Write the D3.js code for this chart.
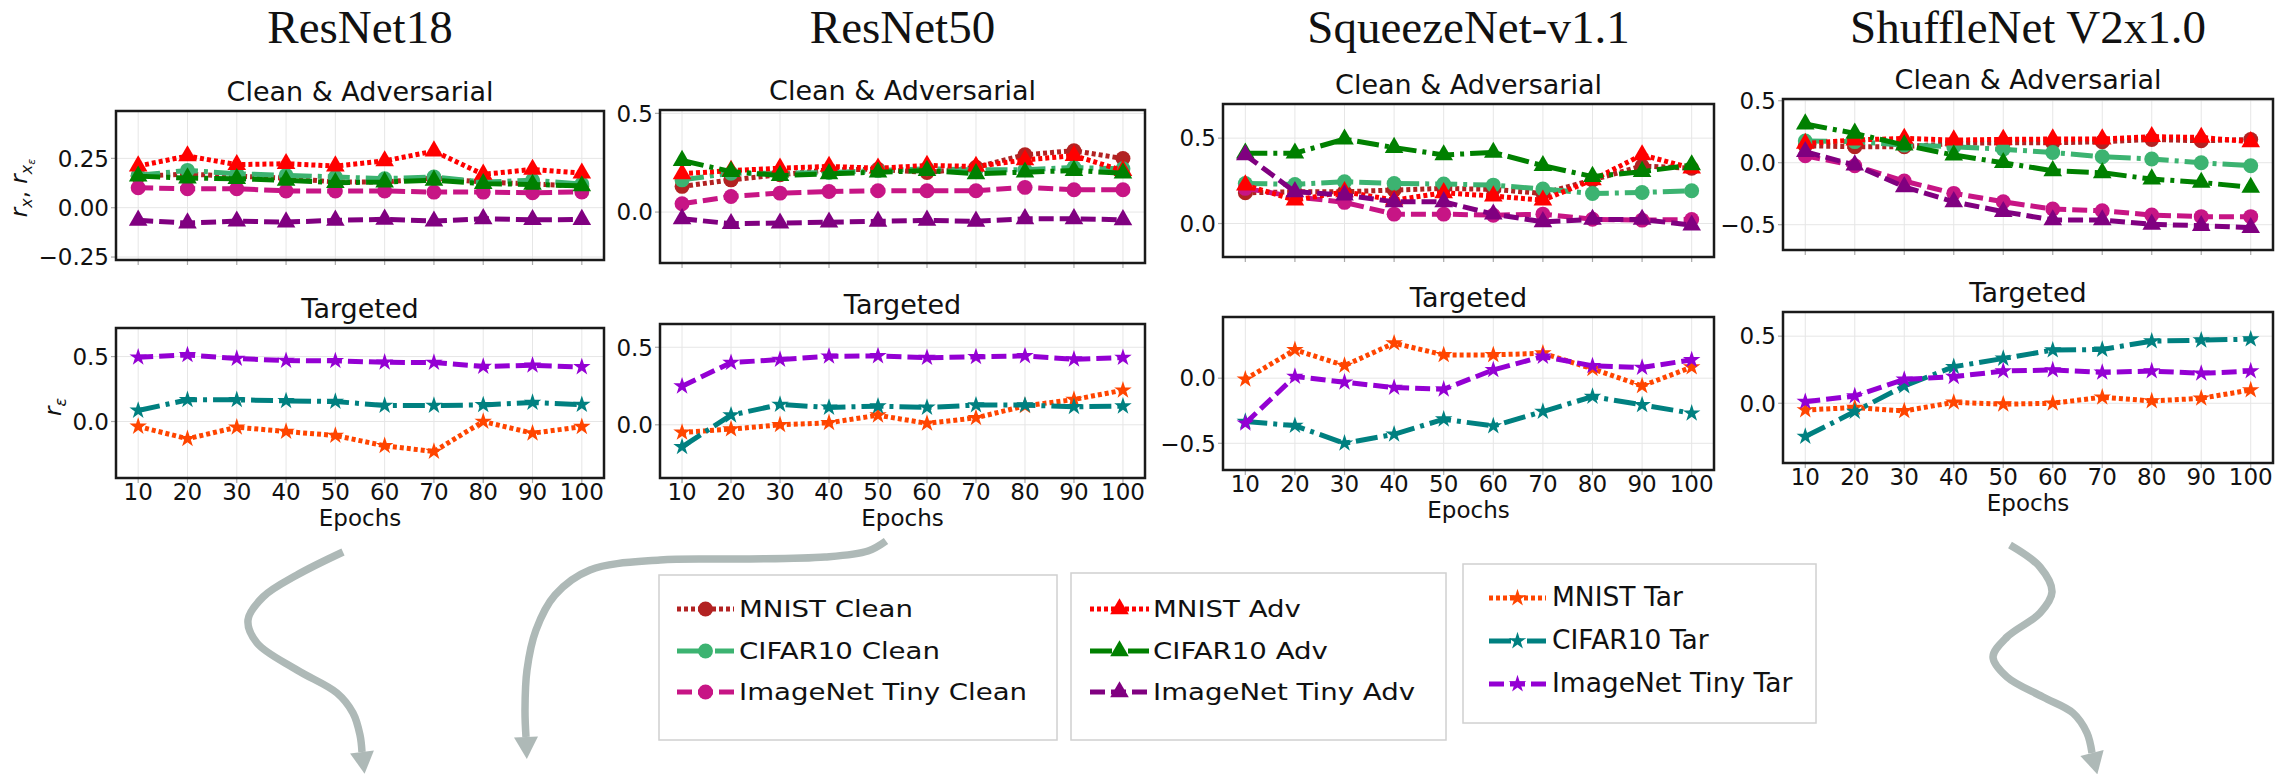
<!DOCTYPE html>
<html>
<head>
<meta charset="utf-8">
<script src="https://cdnjs.cloudflare.com/ajax/libs/d3/7.8.5/d3.min.js"></script>
<style>
  body { margin: 0; background: #fff; }
  svg { display: block; font-family: "DejaVu Sans", sans-serif; }
</style>
</head>
<body>
<svg id="fig" width="2295" height="774"></svg>
<script>
// ---- data ----
var epochs = [10, 20, 30, 40, 50, 60, 70, 80, 90, 100];
var models = ["ResNet18", "ResNet50", "SqueezeNet-v1.1", "ShuffleNet V2x1.0"];

// one row per model, in the order of `models`
var mnistClean = [
  [0.16, 0.17, 0.16, 0.15, 0.13, 0.13, 0.15, 0.13, 0.12, 0.11],
  [0.13, 0.163, 0.189, 0.214, 0.217, 0.2, 0.227, 0.29, 0.311, 0.271],
  [0.18, 0.186, 0.186, 0.196, 0.206, 0.2, 0.176, 0.255, 0.337, 0.324],
  [0.137, 0.129, 0.129, 0.156, 0.161, 0.161, 0.169, 0.188, 0.177, 0.188]
];
var cifarClean = [
  [0.164, 0.189, 0.172, 0.164, 0.156, 0.147, 0.156, 0.13, 0.139, 0.12],
  [0.163, 0.197, 0.197, 0.2, 0.21, 0.219, 0.214, 0.214, 0.226, 0.219],
  [0.235, 0.229, 0.245, 0.235, 0.231, 0.225, 0.202, 0.176, 0.182, 0.192],
  [0.175, 0.17, 0.142, 0.129, 0.108, 0.083, 0.048, 0.03, 0.0, -0.024]
];
var imnetClean = [
  [0.101, 0.096, 0.096, 0.085, 0.085, 0.085, 0.079, 0.079, 0.076, 0.08],
  [0.042, 0.079, 0.096, 0.104, 0.108, 0.108, 0.108, 0.125, 0.113, 0.113],
  [0.206, 0.157, 0.124, 0.055, 0.055, 0.049, 0.055, 0.025, 0.02, 0.024],
  [0.056, -0.024, -0.148, -0.247, -0.315, -0.374, -0.387, -0.422, -0.435, -0.435]
];
var mnistAdv = [
  [0.211, 0.262, 0.218, 0.223, 0.211, 0.237, 0.287, 0.169, 0.194, 0.175],
  [0.194, 0.21, 0.222, 0.231, 0.222, 0.236, 0.231, 0.264, 0.286, 0.21],
  [0.225, 0.137, 0.186, 0.137, 0.18, 0.161, 0.137, 0.255, 0.402, 0.324],
  [0.156, 0.183, 0.196, 0.183, 0.188, 0.191, 0.191, 0.21, 0.204, 0.169]
];
var cifarAdv = [
  [0.16, 0.15, 0.147, 0.139, 0.127, 0.13, 0.139, 0.122, 0.118, 0.11],
  [0.261, 0.205, 0.185, 0.194, 0.202, 0.21, 0.194, 0.202, 0.21, 0.197],
  [0.412, 0.412, 0.494, 0.445, 0.402, 0.416, 0.339, 0.275, 0.304, 0.343],
  [0.312, 0.237, 0.142, 0.062, 0.0, -0.065, -0.081, -0.132, -0.159, -0.199]
];
var imnetAdv = [
  [-0.064, -0.078, -0.068, -0.073, -0.064, -0.059, -0.068, -0.056, -0.061, -0.06],
  [-0.034, -0.059, -0.056, -0.051, -0.047, -0.042, -0.047, -0.034, -0.034, -0.039],
  [0.402, 0.186, 0.167, 0.127, 0.127, 0.055, 0.01, 0.024, 0.024, -0.01],
  [0.089, -0.019, -0.194, -0.315, -0.395, -0.462, -0.462, -0.497, -0.508, -0.524]
];
var mnistTar = [
  [-0.038, -0.133, -0.044, -0.077, -0.108, -0.187, -0.231, 0.0, -0.09, -0.04],
  [-0.049, -0.028, 0.0, 0.013, 0.062, 0.009, 0.045, 0.122, 0.163, 0.223],
  [-0.008, 0.218, 0.097, 0.269, 0.179, 0.179, 0.192, 0.072, -0.059, 0.085],
  [-0.05, -0.032, -0.057, 0.007, -0.007, 0.0, 0.045, 0.017, 0.037, 0.099]
];
var cifarTar = [
  [0.085, 0.167, 0.167, 0.159, 0.154, 0.123, 0.123, 0.128, 0.146, 0.13],
  [-0.142, 0.062, 0.131, 0.112, 0.12, 0.112, 0.127, 0.127, 0.116, 0.12],
  [-0.333, -0.364, -0.5, -0.431, -0.315, -0.367, -0.256, -0.141, -0.205, -0.269],
  [-0.248, -0.062, 0.129, 0.272, 0.334, 0.396, 0.401, 0.463, 0.47, 0.478]
];
var imnetTar = [
  [0.495, 0.513, 0.485, 0.469, 0.467, 0.456, 0.454, 0.423, 0.433, 0.42],
  [0.249, 0.401, 0.421, 0.442, 0.444, 0.433, 0.438, 0.444, 0.423, 0.433],
  [-0.346, 0.013, -0.031, -0.072, -0.085, 0.064, 0.167, 0.095, 0.082, 0.141],
  [0.012, 0.054, 0.178, 0.198, 0.24, 0.248, 0.23, 0.24, 0.223, 0.24]
];

var yTicksTop = [[-0.25, 0, 0.25], [0, 0.5], [0, 0.5], [-0.5, 0, 0.5]];
var yTicksBottom = [[0, 0.5], [0, 0.5], [-0.5, 0], [0, 0.5]];
var topTickFormat = [".2f", ".1f", ".1f", ".1f"];

// ---- styles ----
var DASH = { dot: "4,3", dash: "15,6", dashdot: "22,6,4,6" };
var SYM = { circle: d3.symbolCircle, triangle: d3.symbolTriangle, star: d3.symbolStar };
var SYM_SIZE = { circle: 175, triangle: 150, star: 95 };

var cleanAdvSeries = [
  { name: "MNIST Clean", values: mnistClean, color: "#b22222", dash: "dot", marker: "circle" },
  { name: "CIFAR10 Clean", values: cifarClean, color: "#3cb371", dash: "dashdot", marker: "circle" },
  { name: "ImageNet Tiny Clean", values: imnetClean, color: "#c71585", dash: "dash", marker: "circle" },
  { name: "MNIST Adv", values: mnistAdv, color: "#ff0000", dash: "dot", marker: "triangle" },
  { name: "CIFAR10 Adv", values: cifarAdv, color: "#008000", dash: "dashdot", marker: "triangle" },
  { name: "ImageNet Tiny Adv", values: imnetAdv, color: "#800080", dash: "dash", marker: "triangle" }
];
var targetedSeries = [
  { name: "MNIST Tar", values: mnistTar, color: "#ff4500", dash: "dot", marker: "star" },
  { name: "CIFAR10 Tar", values: cifarTar, color: "#008080", dash: "dashdot", marker: "star" },
  { name: "ImageNet Tiny Tar", values: imnetTar, color: "#9400d3", dash: "dash", marker: "star" }
];

// ---- layout (pixel boxes of each panel) ----
var panels = [
  { x0: 116, x1: 604, top: [111, 260], bottom: [328, 478], topDomain: [-0.265, 0.49], bottomDomain: [-0.435, 0.72] },
  { x0: 660, x1: 1145, top: [110, 263], bottom: [324, 478], topDomain: [-0.258, 0.517], bottomDomain: [-0.343, 0.65] },
  { x0: 1223, x1: 1714, top: [104, 257], bottom: [317, 470], topDomain: [-0.196, 0.70], bottomDomain: [-0.705, 0.47] },
  { x0: 1783, x1: 2273, top: [99, 250], bottom: [312, 463], topDomain: [-0.704, 0.514], bottomDomain: [-0.445, 0.68] }
];

var svg = d3.select("#fig");

// draws one framed plot with grid, ticks and the given series
function drawPlot(pi, box, domain, yTicks, yFmt, series, title, withXLabels) {
  var p = panels[pi];
  var x = d3.scaleLinear().domain([5.5, 104.5]).range([p.x0, p.x1]);
  var y = d3.scaleLinear().domain(domain).range([box[1], box[0]]);
  var g = svg.append("g");

  // grid
  g.selectAll(".gx").data(epochs).enter().append("line")
    .attr("x1", function(d) { return x(d); }).attr("x2", function(d) { return x(d); })
    .attr("y1", box[0]).attr("y2", box[1])
    .attr("stroke", "#e6e6e6").attr("stroke-width", 1);
  g.selectAll(".gy").data(yTicks).enter().append("line")
    .attr("x1", p.x0).attr("x2", p.x1)
    .attr("y1", function(d) { return y(d); }).attr("y2", function(d) { return y(d); })
    .attr("stroke", "#e6e6e6").attr("stroke-width", 1);

  // tick marks
  g.selectAll(".tx").data(epochs).enter().append("line")
    .attr("x1", function(d) { return x(d); }).attr("x2", function(d) { return x(d); })
    .attr("y1", box[1]).attr("y2", box[1] + 5)
    .attr("stroke", "#aaa").attr("stroke-width", 1.2);
  g.selectAll(".ty").data(yTicks).enter().append("line")
    .attr("x1", p.x0 - 5).attr("x2", p.x0)
    .attr("y1", function(d) { return y(d); }).attr("y2", function(d) { return y(d); })
    .attr("stroke", "#aaa").attr("stroke-width", 1.2);

  // y tick labels
  var fmt = d3.format(yFmt);
  g.selectAll(".ly").data(yTicks).enter().append("text")
    .attr("x", p.x0 - 7).attr("y", function(d) { return y(d); })
    .attr("dy", "0.36em").attr("text-anchor", "end")
    .attr("font-size", 23).attr("fill", "#111")
    .text(function(d) { return fmt(d); });

  if (withXLabels) {
    g.selectAll(".lx").data(epochs).enter().append("text")
      .attr("x", function(d) { return x(d); }).attr("y", box[1] + 22)
      .attr("text-anchor", "middle").attr("font-size", 23).attr("fill", "#111")
      .text(function(d) { return d; });
    g.append("text").attr("x", (p.x0 + p.x1) / 2).attr("y", box[1] + 48)
      .attr("text-anchor", "middle").attr("font-size", 23).attr("fill", "#111")
      .text("Epochs");
  }

  g.append("text").attr("x", (p.x0 + p.x1) / 2).attr("y", box[0] - 10)
    .attr("text-anchor", "middle").attr("font-size", 27).attr("fill", "#111")
    .text(title);

  // series
  var line = d3.line()
    .x(function(d, i) { return x(epochs[i]); })
    .y(function(d) { return y(d); });

  series.forEach(function(s) {
    var vals = s.values[pi];
    g.append("path").attr("d", line(vals))
      .attr("fill", "none").attr("stroke", s.color).attr("stroke-width", 5)
      .attr("stroke-dasharray", DASH[s.dash]);
    g.selectAll(null).data(vals).enter().append("path")
      .attr("transform", function(d, i) { return "translate(" + x(epochs[i]) + "," + y(d) + ")"; })
      .attr("d", d3.symbol().type(SYM[s.marker]).size(SYM_SIZE[s.marker]))
      .attr("fill", s.color);
  });

  // frame
  g.append("rect").attr("x", p.x0).attr("y", box[0])
    .attr("width", p.x1 - p.x0).attr("height", box[1] - box[0])
    .attr("fill", "none").attr("stroke", "#1a1a1a").attr("stroke-width", 2.5);
}

panels.forEach(function(p, i) {
  svg.append("text").attr("x", (p.x0 + p.x1) / 2).attr("y", 43)
    .attr("text-anchor", "middle").attr("font-family", "'Liberation Serif', serif")
    .attr("font-size", 47).attr("fill", "#111").text(models[i]);
  drawPlot(i, p.top, p.topDomain, yTicksTop[i], topTickFormat[i], cleanAdvSeries, "Clean & Adversarial", false);
  drawPlot(i, p.bottom, p.bottomDomain, yTicksBottom[i], ".1f", targetedSeries, "Targeted", true);
});

// y axis labels (math style)
var yl1 = svg.append("text").attr("transform", "translate(27,188) rotate(-90)")
  .attr("text-anchor", "middle").attr("font-size", 23).attr("fill", "#111");
yl1.append("tspan").attr("font-style", "italic").text("r");
yl1.append("tspan").attr("font-style", "italic").attr("font-size", 16).attr("dy", 5).text("x");
yl1.append("tspan").attr("dy", -5).text(",  ");
yl1.append("tspan").attr("font-style", "italic").text("r");
yl1.append("tspan").attr("font-style", "italic").attr("font-size", 16).attr("dy", 5).text("x");
yl1.append("tspan").attr("font-style", "italic").attr("font-size", 11).attr("dy", 3).text("ε");

var yl2 = svg.append("text").attr("transform", "translate(61,407) rotate(-90)")
  .attr("text-anchor", "middle").attr("font-size", 23).attr("fill", "#111");
yl2.append("tspan").attr("font-style", "italic").text("r");
yl2.append("tspan").attr("font-style", "italic").attr("font-size", 16).attr("dy", 5).text("ε");

// ---- legends ----
var legends = [
  { box: [659, 575, 1057, 740], series: cleanAdvSeries.slice(0, 3), hx: [677, 734], tx: 739, rows: [617, 659, 700], fs: 23, sx: 1.2 },
  { box: [1071, 573, 1446, 740], series: cleanAdvSeries.slice(3, 6), hx: [1090, 1149], tx: 1153, rows: [617, 659, 700], fs: 23, sx: 1.2 },
  { box: [1463, 564, 1816, 723], series: targetedSeries, hx: [1489, 1546], tx: 1552, rows: [606, 649, 692], fs: 26.5, sx: 1 }
];

legends.forEach(function(L) {
  var g = svg.append("g");
  g.append("rect").attr("x", L.box[0]).attr("y", L.box[1])
    .attr("width", L.box[2] - L.box[0]).attr("height", L.box[3] - L.box[1])
    .attr("fill", "#fff").attr("stroke", "#d0d0d0").attr("stroke-width", 1.5);
  L.series.forEach(function(s, i) {
    var cy = L.rows[i] - 8;
    g.append("line").attr("x1", L.hx[0]).attr("x2", L.hx[1]).attr("y1", cy).attr("y2", cy)
      .attr("stroke", s.color).attr("stroke-width", 5).attr("stroke-dasharray", DASH[s.dash]);
    g.append("path").attr("transform", "translate(" + ((L.hx[0] + L.hx[1]) / 2) + "," + cy + ")")
      .attr("d", d3.symbol().type(SYM[s.marker]).size(SYM_SIZE[s.marker]))
      .attr("fill", s.color);
    g.append("text").attr("transform", "translate(" + L.tx + "," + L.rows[i] + ") scale(" + L.sx + ",1)")
      .attr("font-size", L.fs).attr("fill", "#111").text(s.name);
  });
});

// ---- decorative arrows ----
var arrows = [
  [[343, 552], [297, 575], [263, 597], [248, 620], [257, 643], [297, 670], [337, 693], [353, 713], [360, 735], [362, 752]],
  [[886, 541], [868, 551], [825, 557], [740, 559], [660, 560], [590, 570], [555, 595], [536, 630], [527, 670], [525, 710], [526, 737]],
  [[2010, 545], [2040, 567], [2052, 592], [2040, 613], [2007, 637], [1993, 657], [2007, 677], [2043, 697], [2073, 713], [2087, 733], [2092, 753]]
];
var arrowColor = "#aeb9b7";
var curve = d3.line().curve(d3.curveCatmullRom.alpha(0.5));

arrows.forEach(function(pts) {
  svg.append("path").attr("d", curve(pts))
    .attr("fill", "none").attr("stroke", arrowColor).attr("stroke-width", 7.5);
  var a = pts[pts.length - 2], b = pts[pts.length - 1];
  var ang = Math.atan2(b[1] - a[1], b[0] - a[0]);
  var len = 22, half = 12;
  var tip = [b[0] + Math.cos(ang) * len, b[1] + Math.sin(ang) * len];
  var l = [b[0] + Math.cos(ang + Math.PI / 2) * half, b[1] + Math.sin(ang + Math.PI / 2) * half];
  var r = [b[0] - Math.cos(ang + Math.PI / 2) * half, b[1] - Math.sin(ang + Math.PI / 2) * half];
  svg.append("path").attr("d", "M" + l + "L" + tip + "L" + r + "Z").attr("fill", arrowColor);
});
</script>
</body>
</html>
